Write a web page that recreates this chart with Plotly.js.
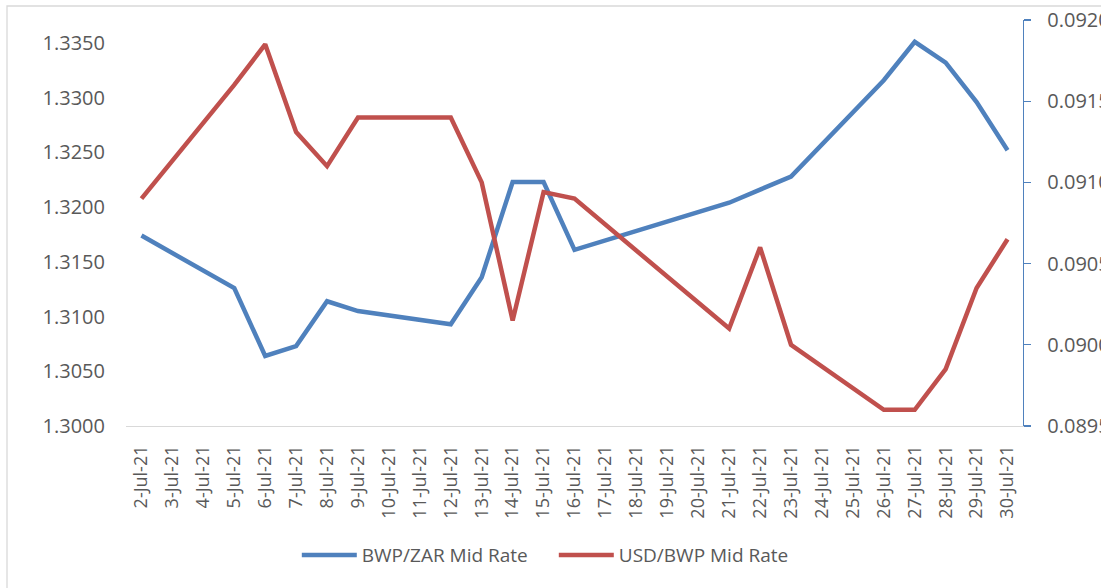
<!DOCTYPE html>
<html>
<head>
<meta charset="utf-8">
<script src="https://cdn.plot.ly/plotly-3.0.1.min.js"></script>
<style>html,body{margin:0;padding:0;background:#fff;}#chart{width:1101px;height:588px;}</style>
</head>
<body>
<div id="chart"></div>
<script>
// Categories: every calendar day 2-Jul-21 .. 30-Jul-21
const dates = ["2-Jul-21","3-Jul-21","4-Jul-21","5-Jul-21","6-Jul-21","7-Jul-21","8-Jul-21","9-Jul-21",
  "10-Jul-21","11-Jul-21","12-Jul-21","13-Jul-21","14-Jul-21","15-Jul-21","16-Jul-21","17-Jul-21",
  "18-Jul-21","19-Jul-21","20-Jul-21","21-Jul-21","22-Jul-21","23-Jul-21","24-Jul-21","25-Jul-21",
  "26-Jul-21","27-Jul-21","28-Jul-21","29-Jul-21","30-Jul-21"];

// BWP/ZAR Mid Rate (left axis); null = no quote that day
const bwpZar = [1.3174,null,null,1.3126,1.3064,1.3073,1.3114,1.3105,
  null,null,1.3093,1.3136,1.3223,1.3223,1.3161,null,
  null,null,null,1.3204,1.3216,1.3228,null,null,
  1.3316,1.3351,1.3332,1.3296,1.3252];

// USD/BWP Mid Rate (right axis)
const usdBwp = [0.09090,null,null,0.09160,0.09185,0.09131,0.09110,0.09140,
  null,null,0.09140,0.09100,0.09015,0.09094,0.09090,null,
  null,null,null,0.09010,0.09060,0.09000,null,null,
  0.08960,0.08960,0.08985,0.09035,0.09065];

const seriesNames = ["BWP/ZAR Mid Rate","USD/BWP Mid Rate"];
const leftTicks = [1.3000,1.3050,1.3100,1.3150,1.3200,1.3250,1.3300,1.3350];
const rightTicks = [0.0895,0.0900,0.0905,0.0910,0.0915,0.0920];

const FONT = "'Open Sans', 'Liberation Sans', sans-serif";
const GREY = "#595959";
const BLUE = "#4F81BD";
const RED = "#C0504D";

const traces = [
  {x: dates, y: bwpZar, name: seriesNames[0], type: "scatter", mode: "lines",
   connectgaps: true, yaxis: "y", line: {color: BLUE, width: 4.5}},
  {x: dates, y: usdBwp, name: seriesNames[1], type: "scatter", mode: "lines",
   connectgaps: true, yaxis: "y2", line: {color: RED, width: 4.5}}
];

const layout = {
  width: 1101, height: 588,
  margin: {l: 126, r: 78, t: 20, b: 162, pad: 0},
  paper_bgcolor: "#fff", plot_bgcolor: "#fff",
  font: {family: FONT, color: GREY},
  showlegend: true,
  legend: {orientation: "h", xref: "container", yref: "container", x: 0.503, xanchor: "center",
    y: 0.056, yanchor: "middle", font: {family: FONT, size: 19, color: GREY},
    itemwidth: 55, entrywidth: 187, entrywidthmode: "pixels", traceorder: "normal"},
  xaxis: {type: "category", categoryorder: "array", categoryarray: dates,
    range: [-0.5, dates.length - 0.5], tickangle: -90, showgrid: false, zeroline: false,
    showline: true, linecolor: "#D9D9D9", linewidth: 1.3, ticks: "",
    tickfont: {family: FONT, size: 18, color: GREY}, ticklabelstandoff: 11},
  yaxis: {range: [1.3, 1.3371], tickvals: leftTicks, ticktext: leftTicks.map(v => v.toFixed(4)),
    showgrid: false, zeroline: false, showline: false, ticks: "",
    tickfont: {family: FONT, size: 20, color: GREY}, ticklabelstandoff: 20},
  yaxis2: {overlaying: "y", side: "right", range: [0.0895, 0.0920], tickvals: rightTicks,
    ticktext: rightTicks.map(v => v.toFixed(4)), showgrid: false, zeroline: false,
    showline: true, linecolor: BLUE, linewidth: 1.3, ticks: "outside", ticklen: 7,
    tickcolor: BLUE, tickwidth: 1.3,
    tickfont: {family: FONT, size: 20, color: GREY}, ticklabelstandoff: 12},
  shapes: [
    {type: "rect", xref: "paper", yref: "paper", x0: (7 - 126) / 897, x1: 1.2,
     y0: -1, y1: (426 - 6) / 406, line: {color: "#D9D9D9", width: 1.3}, fillcolor: "rgba(0,0,0,0)",
     layer: "below"}
  ]
};

Plotly.newPlot("chart", traces, layout, {displayModeBar: false, staticPlot: true});
</script>
</body>
</html>
